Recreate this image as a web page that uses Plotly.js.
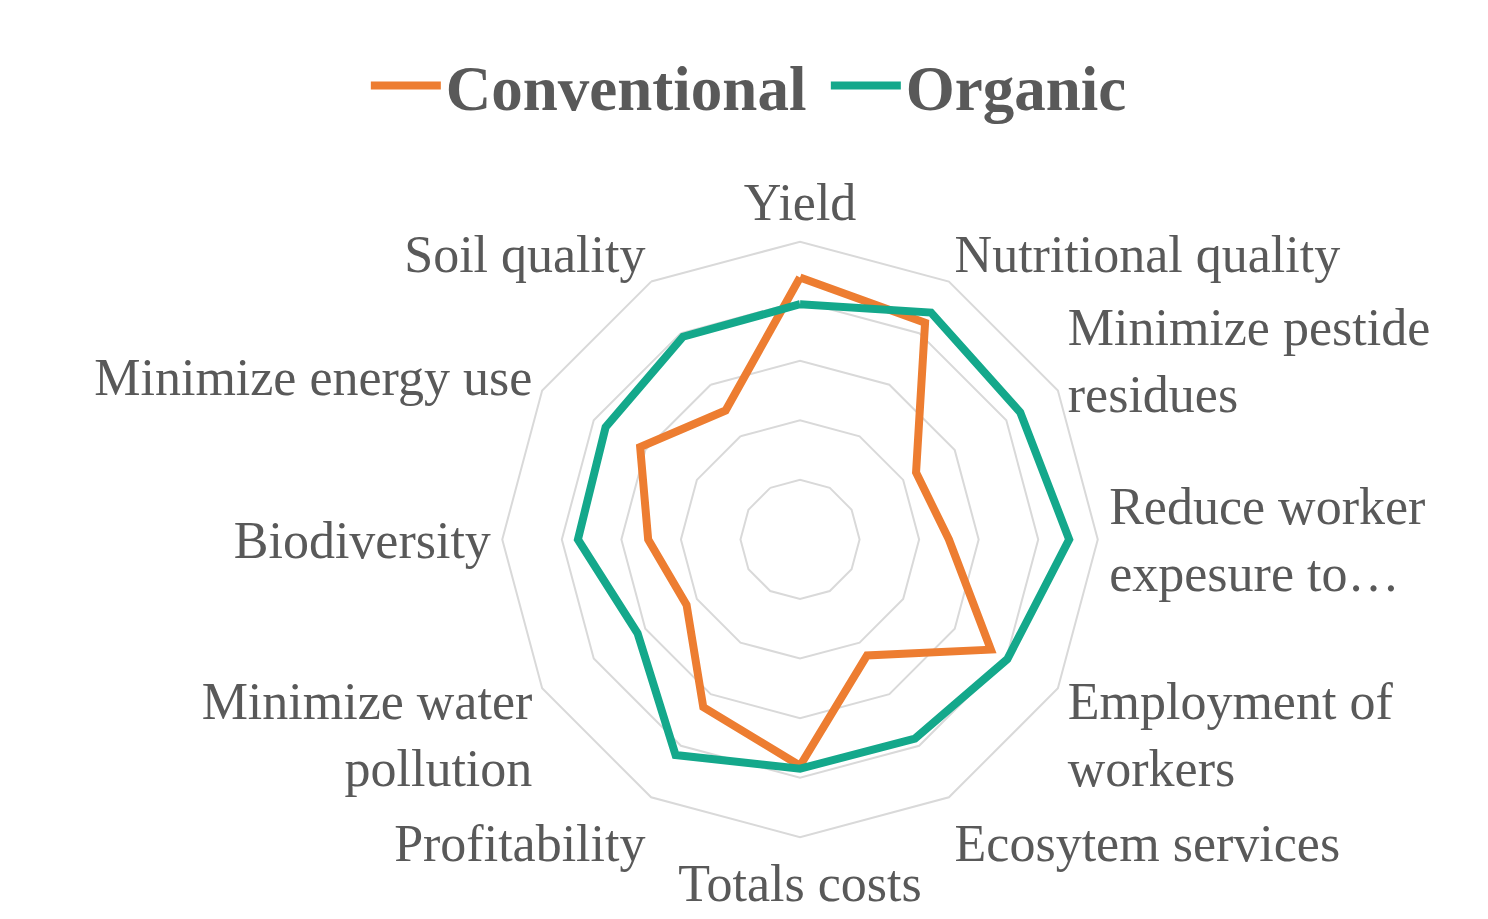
<!DOCTYPE html>
<html>
<head>
<meta charset="utf-8">
<script src="https://cdn.plot.ly/plotly-3.0.1.min.js"></script>
<style>html,body{margin:0;padding:0;background:#fff;}#chart{width:1488px;height:919px;}</style>
</head>
<body>
<div id="chart"></div>
<script>
const categories = ["Yield", "Nutritional quality", "Minimize pestide residues", "Reduce worker expesure to…", "Employment of workers", "Ecosytem services", "Totals costs", "Profitability", "Minimize water pollution", "Biodiversity", "Minimize energy use", "Soil quality"];
const tickLabels = ["Yield", "Nutritional quality", "Minimize pestide<br>residues", "Reduce worker<br>expesure to…", "Employment of<br>workers", "Ecosytem services", "Totals costs", "Profitability", "Minimize water<br>pollution", "Biodiversity", "Minimize energy use", "Soil quality"];
const conventional = [4.4, 4.2, 2.25, 2.5, 3.7, 2.25, 3.8, 3.25, 2.2, 2.55, 3.1, 2.5];
const organic = [3.95, 4.4, 4.27, 4.52, 4.02, 3.86, 3.85, 4.18, 3.15, 3.73, 3.77, 3.93];
const seriesNames = ["Conventional", "Organic"];
const seriesColors = ["#ED7D31", "#14A88B"];

function closed(arr) { return arr.concat([arr[0]]); }

const traces = [conventional, organic].map((vals, i) => ({
  type: "scatterpolar",
  mode: "lines",
  name: seriesNames[i],
  r: closed(vals),
  theta: closed(categories),
  line: {color: seriesColors[i], width: 8},
  hoverinfo: "skip"
}));

const layout = {
  width: 1488, height: 919,
  margin: {l: 0, r: 0, t: 0, b: 0},
  paper_bgcolor: "#ffffff",
  showlegend: true,
  legend: {
    orientation: "h",
    x: 0.555, xanchor: "center",
    y: 0.907, yanchor: "middle",
    font: {family: "Liberation Serif", size: 63, color: "#595959", weight: "bold"},
    itemwidth: 70,
    entrywidth: 375,
    tracegroupgap: 0
  },
  polar: {
    domain: {x: [0.3364, 0.7389], y: [0.089, 0.737]},
    gridshape: "linear",
    bgcolor: "rgba(0,0,0,0)",
    radialaxis: {
      range: [0, 5], dtick: 1, tick0: 0,
      showticklabels: false, ticks: "",
      showline: false,
      gridcolor: "#d9d9d9", gridwidth: 2
    },
    angularaxis: {
      rotation: 90, direction: "clockwise",
      tickmode: "array", tickvals: categories, ticktext: tickLabels,
      ticks: "",
      showgrid: false,
      showline: true, linecolor: "#d9d9d9", linewidth: 2,
      tickfont: {family: "Liberation Serif", size: 52, color: "#595959"}
    }
  }
};

Plotly.newPlot("chart", traces, layout, {displayModeBar: false, staticPlot: true});
</script>
</body>
</html>
